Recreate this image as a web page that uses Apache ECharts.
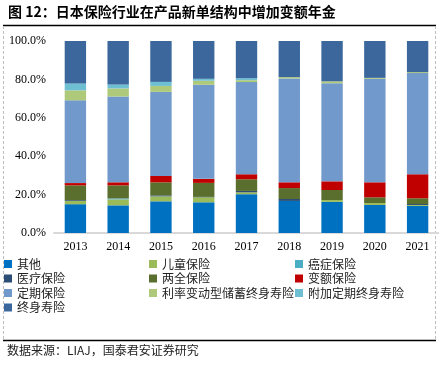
<!DOCTYPE html>
<html>
<head>
<meta charset="utf-8">
<script src="https://cdn.jsdelivr.net/npm/echarts@6/dist/echarts.min.js"></script>
<style>
html,body{margin:0;padding:0;background:#fff;}
#c{width:439px;height:365px;}
</style>
</head>
<body>
<div id="c"></div>
<script>
var years = ['2013','2014','2015','2016','2017','2018','2019','2020','2021'];
var seriesNames = ['其他','儿童保险','癌症保险','医疗保险','两全保险','变额保险','定期保险','利率变动型储蓄终身寿险','附加定期终身寿险','终身寿险'];
var other      = [15.0, 14.4, 16.5, 16.0, 20.2, 16.7, 16.2, 14.6, 14.1];
var child      = [1.7, 3.1, 2.6, 2.6, 1.0, 0, 1.0, 1.0, 0.5];
var cancer     = [0, 0.5, 0, 0, 0, 0, 0, 0, 0];
var medical    = [0.4, 0, 0.5, 0.2, 0.7, 1.0, 0, 0, 0.5];
var endowment  = [7.7, 6.8, 6.8, 7.3, 6.1, 5.7, 5.2, 3.0, 3.0];
var variable   = [1.2, 1.6, 3.3, 2.1, 2.6, 3.0, 4.5, 7.8, 12.5];
var term       = [43.1, 44.7, 43.8, 49.0, 48.0, 54.1, 51.1, 53.9, 52.7];
var rateSens   = [5.2, 4.2, 3.1, 2.1, 1.0, 0.7, 1.0, 0.5, 0.5];
var riderTerm  = [3.6, 2.1, 2.1, 1.0, 1.0, 0, 0, 0, 0];
var wholeLife  = [22.1, 22.6, 21.3, 19.7, 19.4, 18.8, 21.0, 19.2, 16.2];
var yTicks = [0, 20, 40, 60, 80, 100];

var values = [other, child, cancer, medical, endowment, variable, term, rateSens, riderTerm, wholeLife];
var colors = ['#0070C0','#9BBB59','#4BACC6','#2C4D75','#5A6F2E','#C00000','#7199CC','#AFC97A','#6FBFD3','#3B679C'];

var serif = '"Liberation Serif","Times New Roman",serif';
var cjk = '"Noto Sans CJK SC",sans-serif';

var chart = echarts.init(document.getElementById('c'), null, {renderer:'canvas'});
var series = seriesNames.map(function(n, i){
  return {
    name: n, type: 'bar', stack: 'total', data: values[i],
    barWidth: '50%',
    itemStyle: {color: colors[i]},
    emphasis: {disabled: true}
  };
});
function legendCfg(names, left){
  return {
    data: names, orient: 'vertical', left: left, top: 257,
    icon: 'rect', itemWidth: 8, itemHeight: 8, itemGap: 0.5, padding: 0,
    selectedMode: false,
    textStyle: {fontFamily: cjk, fontSize: 12, color: '#222', lineHeight: 14}
  };
}
chart.setOption({
  animation: false,
  backgroundColor: '#fff',
  grid: {left: 54, right: 0, top: 41, bottom: 132, containLabel: false},
  legend: [
    legendCfg([seriesNames[0], seriesNames[3], seriesNames[6], seriesNames[9]], 4),
    legendCfg([seriesNames[1], seriesNames[4], seriesNames[7]], 149),
    legendCfg([seriesNames[2], seriesNames[5], seriesNames[8]], 295)
  ],
  xAxis: {
    type: 'category', data: years,
    axisLine: {lineStyle: {color: '#D9D9D9', width: 2}},
    axisTick: {show: false},
    axisLabel: {fontFamily: serif, fontSize: 12, color: '#000', margin: 8}
  },
  yAxis: {
    type: 'value', min: yTicks[0], max: yTicks[yTicks.length-1], interval: 20,
    splitLine: {show: false},
    axisLine: {show: false}, axisTick: {show: false},
    axisLabel: {fontFamily: serif, fontSize: 12, color: '#000', margin: 8,
      formatter: function(v){ return v.toFixed(1) + '%'; }}
  },
  graphic: [
    {type: 'text', left: 8, top: 5, style: {text: '图 12：日本保险行业在产品新单结构中增加变额年金', font: 'bold 14px ' + cjk, fill: '#000'}},
    {type: 'line', shape: {x1: 3, y1: 25.5, x2: 436, y2: 25.5}, style: {stroke: '#000', lineWidth: 1.5}},
    {type: 'line', shape: {x1: 3.5, y1: 26, x2: 3.5, y2: 340}, style: {stroke: '#BFBFBF', lineWidth: 1, lineDash: [3, 2]}},
    {type: 'line', shape: {x1: 435.5, y1: 26, x2: 435.5, y2: 340}, style: {stroke: '#BFBFBF', lineWidth: 1, lineDash: [3, 2]}},
    {type: 'line', shape: {x1: 3, y1: 340.5, x2: 436, y2: 340.5}, style: {stroke: '#000', lineWidth: 1.5}},
    {type: 'text', left: 7, top: 344, style: {text: '数据来源：LIAJ，国泰君安证券研究', font: '12px ' + cjk, fill: '#222'}}
  ],
  series: series
});
</script>
</body>
</html>
